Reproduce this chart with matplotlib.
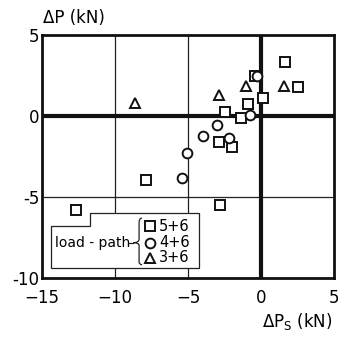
import numpy as np
import matplotlib.pyplot as plt
from matplotlib.path import Path
from matplotlib.patches import PathPatch, Polygon

# load-path 5+6 (squares)
sq_x = [1.67, 2.53, -0.43, 0.14, -0.89, -2.44, -1.39, -2.88, -1.99, -7.85, -2.83, -12.7]
sq_y = [3.35, 1.81, 2.46, 1.13, 0.72, 0.25, -0.14, -1.58, -1.89, -3.94, -5.52, -5.79]
# load-path 4+6 (circles)
ci_x = [-0.27, -0.73, -3.01, -2.19, -3.97, -5.07, -5.41]
ci_y = [2.46, 0.06, -0.55, -1.33, -1.21, -2.30, -3.84]
# load-path 3+6 (triangles)
tr_x = [-8.65, -2.88, -1.05, 1.58]
tr_y = [0.78, 1.29, 1.85, 1.85]

xticks = [-15, -10, -5, 0, 5]
xlabels = ["\u221215", "\u221210", "\u22125", "0", "5"]
yticks = [-10, -5, 0, 5]
ylabels = ["-10", "-5", "0", "5"]

plt.rcParams['font.family'] = 'DejaVu Sans'
fig = plt.figure(figsize=(3.43, 3.54), dpi=100)
ax = fig.add_axes([0.1224, 0.2147, 0.8514, 0.6864])
ax.set_xlim(-15, 5)
ax.set_ylim(-10, 5)

for v in [-10, -5]:
    ax.axvline(v, color='#222222', lw=0.9, zorder=1)
ax.axhline(-5, color='#222222', lw=0.9, zorder=1)
ax.axvline(0, color='#111111', lw=3, zorder=1)
ax.axhline(0, color='#111111', lw=3, zorder=1)

mk = dict(ls='none', mfc='white', mec='#111111', mew=1.4, ms=7, zorder=3)
ax.plot(sq_x, sq_y, marker='s', **mk)
ax.plot(ci_x, ci_y, marker='o', **mk)
ax.plot(tr_x, tr_y, marker='^', **mk)

# notched legend box
box = Polygon([(-14.41, -6.82), (-11.74, -6.82), (-11.74, -6.0), (-4.25, -6.0),
               (-4.25, -9.38), (-14.41, -9.38)], closed=True, fc='white',
              ec='#222222', lw=0.9, zorder=4)
ax.add_patch(box)
ax.text(-14.1, -7.82, "load - path", fontsize=10, va='center', ha='left', zorder=5)
# brace
bx, tip = -8.35, -8.75
verts = [(bx + 0.2, -6.30), (bx, -6.30), (bx, -6.6), (bx, -7.6),
         (bx, -7.82), (tip, -7.82), (tip, -7.82),
         (bx, -7.82), (bx, -8.0), (bx, -9.0),
         (bx, -9.18), (bx + 0.2, -9.18), (bx + 0.2, -9.18)]
codes = [Path.MOVETO, Path.CURVE3, Path.CURVE3, Path.LINETO,
         Path.CURVE3, Path.CURVE3, Path.LINETO,
         Path.CURVE3, Path.CURVE3, Path.LINETO,
         Path.CURVE3, Path.CURVE3, Path.LINETO]
ax.add_patch(PathPatch(Path(verts, codes), fc='none', ec='#222222', lw=0.9, zorder=5))
ax.plot([tip - 0.3, tip], [-7.82, -7.82], color='#222222', lw=0.9, zorder=5)

leg_y = [-6.82, -7.82, -8.74]
leg_m = ['s', 'o', '^']
leg_t = ["5+6", "4+6", "3+6"]
for yy, m, t in zip(leg_y, leg_m, leg_t):
    ax.plot([-7.63], [yy], marker=m, ls='none', mfc='white', mec='#111111',
            mew=1.4, ms=7, zorder=6)
    ax.text(-6.99, yy, t, fontsize=10.5, va='center', ha='left', zorder=6)

ax.set_xticks(xticks)
ax.set_xticklabels(xlabels, fontsize=12)
ax.set_yticks(yticks)
ax.set_yticklabels(ylabels, fontsize=12)
ax.tick_params(axis='x', length=0, pad=8)
ax.tick_params(axis='y', length=0, pad=2)
for s in ax.spines.values():
    s.set_linewidth(2)
    s.set_color('#111111')

fig.text(0.126, 0.935, "\u0394P (kN)", fontsize=12, ha='left', va='baseline')
fig.text(0.97, 0.075, "\u0394P$_\\mathregular{S}$ (kN)", fontsize=12, ha='right', va='baseline')

fig.savefig("out.png", dpi=100)
